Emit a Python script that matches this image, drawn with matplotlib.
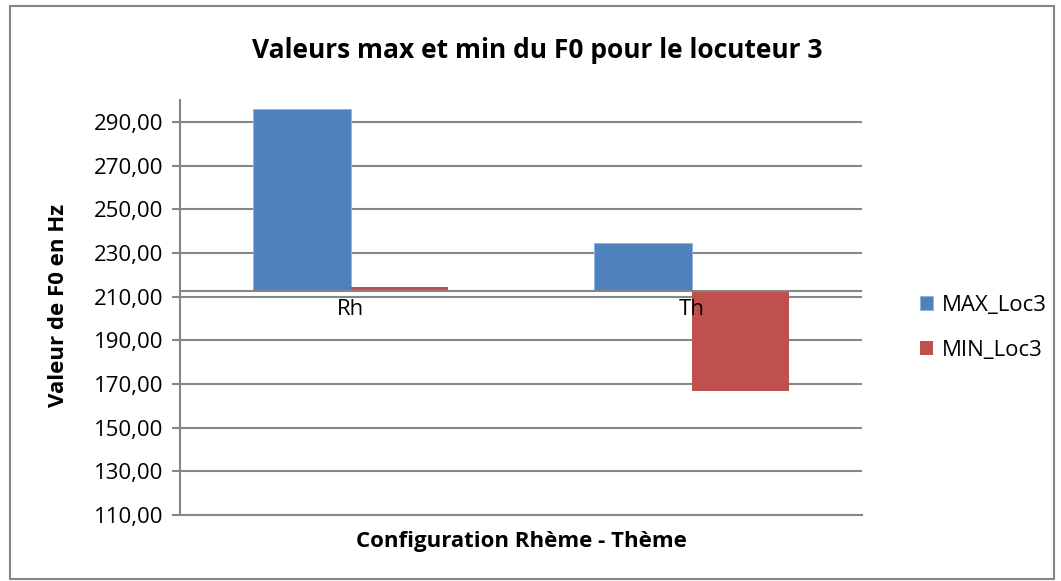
import matplotlib.pyplot as plt
import numpy as np
from matplotlib.patches import Rectangle

plt.rcParams['font.family'] = ['Open Sans', 'DejaVu Sans']

categories = ['Rh', 'Th']
max_loc3 = [296.0, 234.5]
min_loc3 = [214.3, 166.9]
series_names = ['MAX_Loc3', 'MIN_Loc3']
yticks = [110, 130, 150, 170, 190, 210, 230, 250, 270, 290]
cross = 212.6  # horizontal axis crosses here

blue = '#4F81BD'
red = '#C0504D'
grid = '#868686'

fig = plt.figure(figsize=(10.61, 5.81), dpi=100)
ax = fig.add_axes([180/1061, 1 - 515/581, 682/1061, 415/581])

x = np.arange(len(categories))
w = 1 / 3.5
ax.bar(x - w/2, np.array(max_loc3) - cross, bottom=cross, width=w, color=blue,
       edgecolor='#8EB4E3', linewidth=0.6, label=series_names[0], zorder=3)
ax.bar(x + w/2, np.array(min_loc3) - cross, bottom=cross, width=w, color=red,
       label=series_names[1], zorder=3)

ax.set_xlim(-0.5, 1.5)
ax.set_ylim(110, 300)
ax.set_yticks(yticks)
ax.set_yticklabels([f'{v:.2f}'.replace('.', ',') for v in yticks], fontsize=16)
ax.yaxis.grid(True, color=grid, linewidth=1.5, zorder=0)
ax.axhline(cross, color=grid, linewidth=1.5, zorder=4)
ax.set_xticks([])
for xi, c in zip(x, categories):
    ax.text(xi, cross - 3.5, c, ha='center', va='top', fontsize=16, zorder=5)

for s in ['top', 'right']:
    ax.spines[s].set_visible(False)
ax.spines['left'].set_color(grid)
ax.spines['left'].set_linewidth(1.5)
ax.spines['bottom'].set_color(grid)
ax.spines['bottom'].set_linewidth(1.5)
ax.tick_params(axis='y', color=grid, width=1.5, length=6, pad=6)

ax.set_ylabel('Valeur de F0 en Hz', fontsize=16, fontweight='bold')
ax.yaxis.set_label_coords(-0.163, 0.506)
ax.set_xlabel('Configuration Rhème - Thème', fontsize=16, fontweight='bold')
ax.xaxis.set_label_coords(0.501, -0.038)
fig.text(537/1061, 1 - 50/581, 'Valeurs max et min du F0 pour le locuteur 3',
         ha='center', va='center', fontsize=19, fontweight='bold')

fig.legend(loc='center left', bbox_to_anchor=(900/1061, 1 - 328/581), frameon=False,
           fontsize=16, handlelength=0.6, handleheight=0.6, labelspacing=1.1,
           handletextpad=0.4)

fig.patches.append(Rectangle((10/1061, 2/581), 1044/1061, 573/581, transform=fig.transFigure,
                             fill=False, edgecolor=grid, linewidth=1.5))

fig.savefig('out.png', dpi=100)
